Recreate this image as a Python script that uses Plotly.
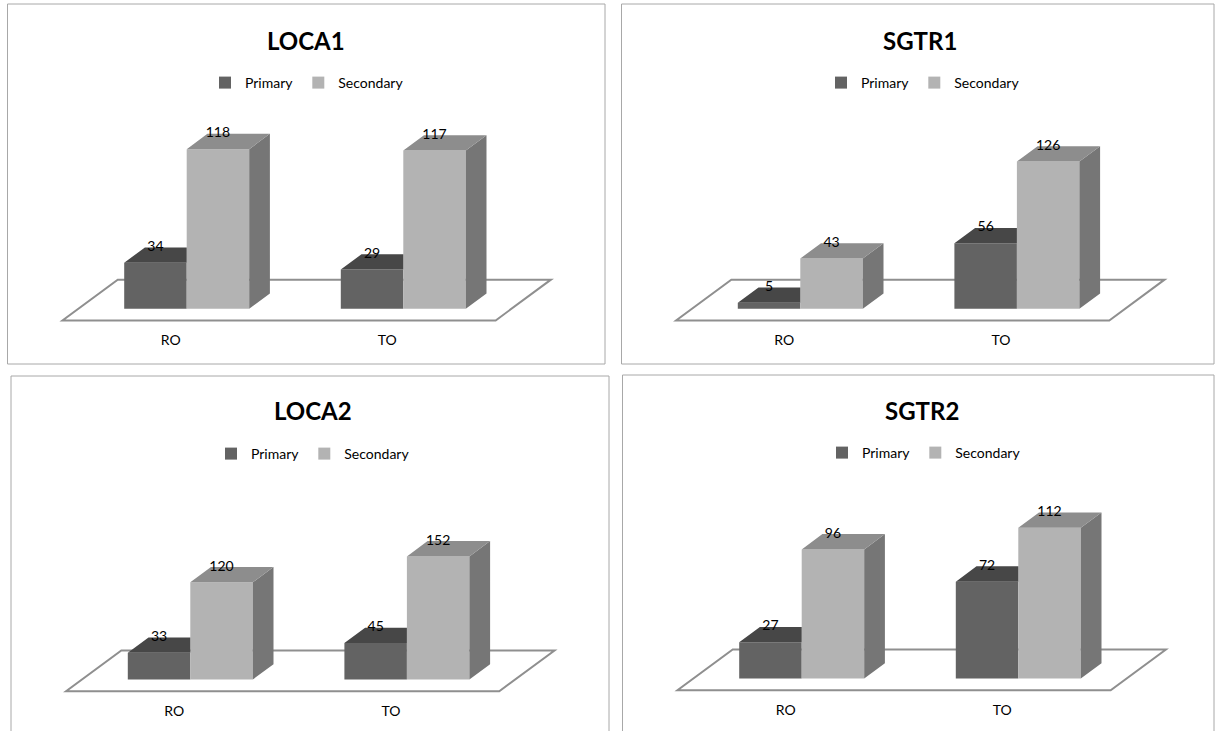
import plotly.graph_objects as go

W, H = 1216, 731

# ---- data -------------------------------------------------------------
categories = ["RO", "TO"]
series_names = ["Primary", "Secondary"]
panel_titles = ["LOCA1", "SGTR1", "LOCA2", "SGTR2"]

loca1_primary = [34, 29]
loca1_secondary = [118, 117]
sgtr1_primary = [5, 56]
sgtr1_secondary = [43, 126]
loca2_primary = [33, 45]
loca2_secondary = [120, 152]
sgtr2_primary = [27, 72]
sgtr2_secondary = [96, 112]

# ---- styling ----------------------------------------------------------
FRONT = ["#636363", "#b3b3b3"]
TOP = ["#474747", "#8d8d8d"]
SIDE = ["#595959", "#767676"]
FLOOR_LINE = "#8f8f8f"
BOX_LINE = "#a8a8a8"
FONT = "Lato"

S = 216.6          # pixels per category step
BAR_PX = 62.5      # bar width in pixels
DX, DY = 20.7, 15.3  # oblique depth offset of a bar (px right, px up)
FLOOR_FRONT, FLOOR_BACK = -0.77, 1.9  # floor extent in bar depths

# panel frame (left, top, right, bottom px), category origin, zero line, px per unit
panels = [
    dict(title=panel_titles[0], prim=loca1_primary, sec=loca1_secondary,
         box=(7.5, 4, 605, 364), x0=186.7, zero=308.7, k=1.352,
         title_xy=(306, 40), legend_xy=(307, 83)),
    dict(title=panel_titles[1], prim=sgtr1_primary, sec=sgtr1_secondary,
         box=(621.5, 4, 1214, 364), x0=800.3, zero=308.7, k=1.168,
         title_xy=(920, 40), legend_xy=(923, 83)),
    dict(title=panel_titles[2], prim=loca2_primary, sec=loca2_secondary,
         box=(11, 376, 609, 760), x0=190.3, zero=679.5, k=0.81,
         title_xy=(313, 410), legend_xy=(313, 454)),
    dict(title=panel_titles[3], prim=sgtr2_primary, sec=sgtr2_secondary,
         box=(622.5, 375, 1214, 760), x0=801.7, zero=678.5, k=1.345,
         title_xy=(922, 410), legend_xy=(924, 453)),
]

fig = go.Figure()
shapes, annotations = [], []
layout = {}


def poly(points_list):
    xs, ys = [], []
    for pts in points_list:
        for (a, b) in pts:
            xs.append(a)
            ys.append(b)
        xs.append(pts[0][0])
        ys.append(pts[0][1])
        xs.append(None)
        ys.append(None)
    return xs, ys


for i, p in enumerate(panels, start=1):
    sfx = "" if i == 1 else str(i)
    xa, ya = f"x{sfx}", f"y{sfx}"
    leg = "legend" if i == 1 else f"legend{i}"
    L, T, R, B = p["box"]
    Bc = min(B, H)
    X0, Z, k = p["x0"], p["zero"], p["k"]

    layout[f"xaxis{sfx}"] = dict(domain=[L / W, R / W],
                                 range=[(L - X0) / S, (R - X0) / S],
                                 visible=False, anchor=ya, fixedrange=True)
    layout[f"yaxis{sfx}"] = dict(domain=[max(0.0, 1 - Bc / H), 1 - T / H],
                                 range=[(Z - Bc) / k, (Z - T) / k],
                                 visible=False, anchor=xa, fixedrange=True)

    bw = BAR_PX / S
    du, dv = DX / S, DY / k
    pos = list(range(len(categories)))
    prim, sec = p["prim"], p["sec"]

    # panel frame
    shapes.append(dict(type="rect", xref="paper", yref="paper",
                       x0=L / W, x1=R / W, y0=1 - B / H, y1=1 - T / H,
                       line=dict(color=BOX_LINE, width=1), layer="below"))

    # floor plane under the bars
    n = len(categories)
    fl = [(-0.5 + FLOOR_FRONT * du, FLOOR_FRONT * dv),
          (n - 0.5 + FLOOR_FRONT * du, FLOOR_FRONT * dv),
          (n - 0.5 + FLOOR_BACK * du, FLOOR_BACK * dv),
          (-0.5 + FLOOR_BACK * du, FLOOR_BACK * dv)]
    path = "M " + " L ".join(f"{a},{b}" for a, b in fl) + " Z"
    shapes.append(dict(type="path", xref=xa, yref=ya, path=path,
                       fillcolor="white", line=dict(color=FLOOR_LINE, width=2),
                       layer="below"))

    # front faces
    for s_idx, (vals, off) in enumerate([(prim, -0.5), (sec, 0.5)]):
        fig.add_trace(go.Bar(
            x=[c + off * bw for c in pos], y=vals, width=bw, base=0,
            marker=dict(color=FRONT[s_idx], line=dict(width=0)),
            name=series_names[s_idx], legend=leg, xaxis=xa, yaxis=ya,
            hoverinfo="skip", showlegend=True))

    # primary top faces (part behind the taller secondary bar is hidden)
    tops = []
    for c, v, v2 in zip(pos, prim, sec):
        xl, xr = c - bw, c
        if v2 >= v + dv:
            tops.append([(xl, v), (xr, v), (xr, v + dv), (xl + du, v + dv)])
        else:
            tops.append([(xl, v), (xr, v), (xr + du, v + dv), (xl + du, v + dv)])
    xs, ys = poly(tops)
    fig.add_trace(go.Scatter(x=xs, y=ys, fill="toself", fillcolor=TOP[0],
                             mode="lines", line=dict(width=0), xaxis=xa, yaxis=ya,
                             hoverinfo="skip", showlegend=False))

    # secondary top and side faces
    tops, sides = [], []
    for c, v in zip(pos, sec):
        xl, xr = c, c + bw
        tops.append([(xl, v), (xr, v), (xr + du, v + dv), (xl + du, v + dv)])
        sides.append([(xr, 0), (xr, v), (xr + du, v + dv), (xr + du, dv)])
    for faces, col in [(sides, SIDE[1]), (tops, TOP[1])]:
        xs, ys = poly(faces)
        fig.add_trace(go.Scatter(x=xs, y=ys, fill="toself", fillcolor=col,
                                 mode="lines", line=dict(width=0), xaxis=xa, yaxis=ya,
                                 hoverinfo="skip", showlegend=False))

    # value labels
    lx, ly, lt = [], [], []
    for c, a, b in zip(pos, prim, sec):
        lx += [c - bw / 2, c + bw / 2]
        ly += [a + dv, b + dv]
        lt += [str(a), str(b)]
    fig.add_trace(go.Scatter(x=lx, y=ly, text=lt, mode="text",
                             textposition="middle center",
                             textfont=dict(family=FONT, size=14, color="#000000"),
                             xaxis=xa, yaxis=ya, hoverinfo="skip",
                             showlegend=False, cliponaxis=False))

    # category labels in front of the floor
    fig.add_trace(go.Scatter(x=[c - 16 / S for c in pos],
                             y=[-32.6 / k] * len(pos), text=categories,
                             mode="text", textposition="middle center",
                             textfont=dict(family=FONT, size=14, color="#000000"),
                             xaxis=xa, yaxis=ya, hoverinfo="skip",
                             showlegend=False, cliponaxis=False))

    # title
    tx, ty = p["title_xy"]
    annotations.append(dict(text=p["title"], xref="paper", yref="paper",
                            x=tx / W, y=1 - ty / H, xanchor="center",
                            yanchor="middle", showarrow=False,
                            font=dict(family=FONT, size=24, color="#000000",
                                      weight="bold")))

    # legend
    gx, gy = p["legend_xy"]
    layout[leg] = dict(orientation="h", x=gx / W, y=1 - gy / H,
                       xanchor="center", yanchor="middle",
                       bgcolor="rgba(0,0,0,0)", itemwidth=30,
                       font=dict(family=FONT, size=14, color="#000000"),
                       itemclick=False, itemdoubleclick=False,
                       tracegroupgap=0, traceorder="normal")

fig.update_layout(**layout)
fig.update_layout(width=W, height=H, margin=dict(l=0, r=0, t=0, b=0),
                  paper_bgcolor="white", plot_bgcolor="rgba(0,0,0,0)",
                  barmode="overlay", shapes=shapes, annotations=annotations,
                  showlegend=True)

fig.write_html("out.html", config={"displayModeBar": False})
